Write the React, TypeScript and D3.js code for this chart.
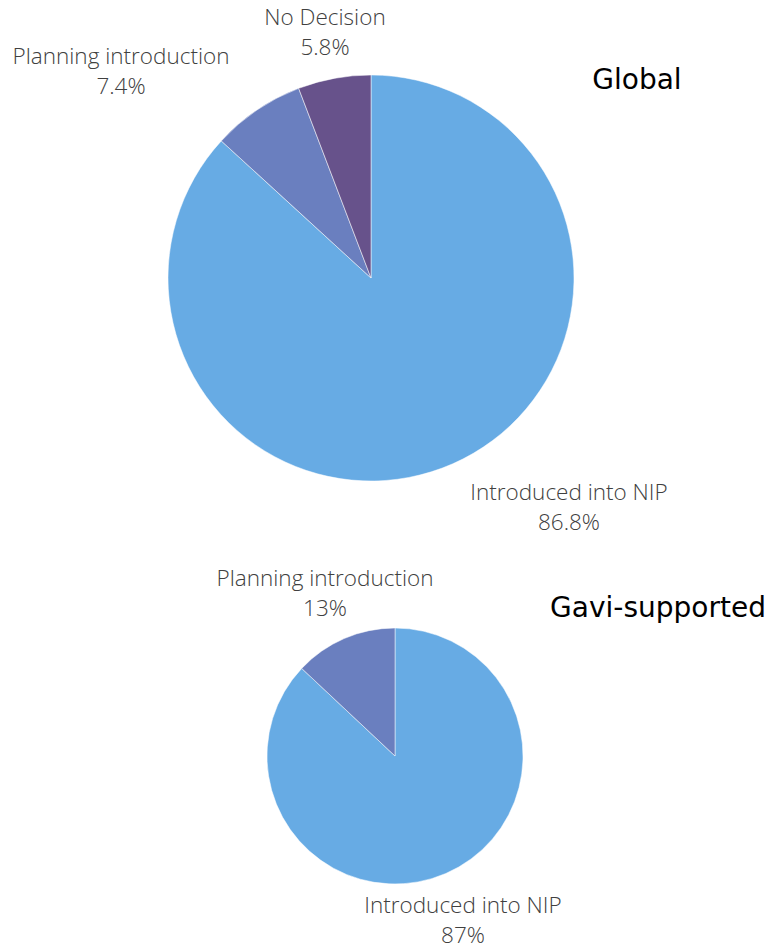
import React from "react";
import * as d3 from "d3";

const categories = ["Introduced into NIP", "Planning introduction", "No Decision"];
const globalValues = [86.8, 7.4, 5.8];
const globalLabels = ["86.8%", "7.4%", "5.8%"];
const gaviCategories = ["Introduced into NIP", "Planning introduction"];
const gaviValues = [87, 13];
const gaviLabels = ["87%", "13%"];
const colors = ["#67ABE4", "#6A7FBF", "#67528B"];

type PieProps = {
  cx: number;
  cy: number;
  r: number;
  cats: string[];
  values: number[];
  labels: string[];
  labelPos: [number, number][];
};

function Pie({ cx, cy, r, cats, values, labels, labelPos }: PieProps) {
  const pie = d3.pie<number>().sort(null).value((d) => d);
  const arcs = pie(values);
  const arc = d3.arc<d3.PieArcDatum<number>>().innerRadius(0).outerRadius(r);
  return (
    <g>
      <g transform={`translate(${cx},${cy})`}>
        {arcs.map((a, i) => (
          <path key={i} d={arc(a) || ""} fill={colors[i]} stroke="#ffffff" strokeWidth={0.5} />
        ))}
      </g>
      {arcs.map((a, i) => (
        <text
          key={"l" + i}
          x={labelPos[i][0]}
          y={labelPos[i][1]}
          textAnchor="middle"
          fontFamily="'Open Sans', sans-serif"
          fontWeight={300}
          fontSize={22.5}
          fill="#404040"
        >
          <tspan x={labelPos[i][0]}>{cats[i]}</tspan>
          <tspan x={labelPos[i][0]} dy={30}>{labels[i]}</tspan>
        </text>
      ))}
    </g>
  );
}

export default function App() {
  return (
    <svg width={784} height={949} style={{ position: "absolute", left: 0, top: 0 }}>
      <rect width={784} height={949} fill="#ffffff" />
      <Pie
        cx={371}
        cy={278}
        r={203}
        cats={categories}
        values={globalValues}
        labels={globalLabels}
        labelPos={[[569, 500], [121, 64], [325, 25]]}
      />
      <text x={637} y={89} textAnchor="middle" fontFamily="'DejaVu Sans', sans-serif" fontWeight={400} fontSize={28} fill="#000000">
        Global
      </text>
      <Pie
        cx={395}
        cy={756}
        r={128}
        cats={gaviCategories}
        values={gaviValues}
        labels={gaviLabels}
        labelPos={[[463, 913], [325, 586]]}
      />
      <text x={658} y={617} textAnchor="middle" fontFamily="'DejaVu Sans', sans-serif" fontWeight={400} fontSize={28} fill="#000000">
        Gavi-supported
      </text>
    </svg>
  );
}
